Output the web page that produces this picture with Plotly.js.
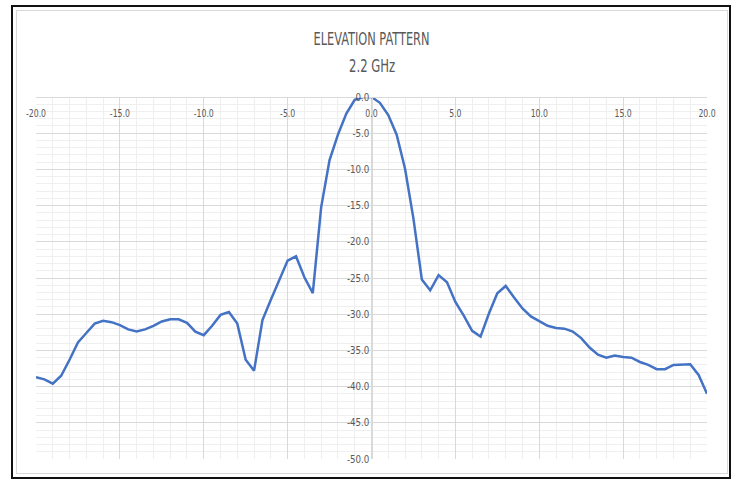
<!DOCTYPE html>
<html><head><meta charset="utf-8">
<script src="https://cdn.plot.ly/plotly-3.0.1.min.js"></script>
<style>
html,body{margin:0;padding:0;background:#fff;}
#wrap{position:relative;width:737px;height:483px;overflow:hidden;}
#chart{position:absolute;left:0;top:0;width:737px;height:483px;}
#outer{position:absolute;left:11px;top:5px;width:716px;height:470px;border:2px solid #111;pointer-events:none;}
#inner{position:absolute;left:16px;top:10px;width:710px;height:462px;border:1px solid #d9d9d9;pointer-events:none;}
</style>
</head><body>
<div id="wrap"><div id="chart"></div><div id="outer"></div><div id="inner"></div></div>
<script>
const angles = [-20,-19.5,-19,-18.5,-18,-17.5,-17,-16.5,-16,-15.5,-15,-14.5,-14,-13.5,-13,-12.5,-12,-11.5,-11,-10.5,-10,-9.5,-9,-8.5,-8,-7.5,-7,-6.5,-6,-5.5,-5,-4.5,-4,-3.5,-3,-2.5,-2,-1.5,-1,-0.5,0,0.5,1,1.5,2,2.5,3,3.5,4,4.5,5,5.5,6,6.5,7,7.5,8,8.5,9,9.5,10,10.5,11,11.5,12,12.5,13,13.5,14,14.5,15,15.5,16,16.5,17,17.5,18,18.5,19,19.5,20];
const gainDb = [-38.7,-39.0,-39.6,-38.5,-36.3,-33.9,-32.6,-31.3,-30.9,-31.1,-31.5,-32.1,-32.4,-32.1,-31.6,-31.0,-30.7,-30.7,-31.2,-32.4,-32.9,-31.6,-30.1,-29.7,-31.3,-36.3,-37.8,-30.8,-28.0,-25.2,-22.6,-22.0,-24.9,-27.1,-15.2,-8.7,-5.2,-2.3,-0.4,0,0,-0.8,-2.5,-5.2,-9.9,-16.8,-25.2,-26.7,-24.6,-25.6,-28.3,-30.2,-32.3,-33.1,-29.9,-27.1,-26.1,-27.7,-29.2,-30.3,-31.0,-31.6,-31.9,-32.0,-32.4,-33.3,-34.6,-35.6,-36.0,-35.7,-35.9,-36.0,-36.6,-37.0,-37.6,-37.6,-37.0,-36.9,-36.9,-38.4,-41.0];
const xTickVals = [-20,-15,-10,-5,0,5,10,15,20];
const xTickText = ["-20.0","-15.0","-10.0","-5.0","0.0","5.0","10.0","15.0","20.0"];
const yTickVals = [0,-5,-10,-15,-20,-25,-30,-35,-40,-45,-50];
const yTickText = ["0.0","-5.0","-10.0","-15.0","-20.0","-25.0","-30.0","-35.0","-40.0","-45.0","-50.0"];
const titleLine1 = "ELEVATION PATTERN";
const titleLine2 = "2.2 GHz";

const FONT = "'Liberation Sans Narrow', 'DejaVu Sans Condensed', 'Roboto', sans-serif";
const tickFont = {family: FONT, size: 10.5, color: '#595959'};

Plotly.newPlot('chart', [{
  x: angles, y: gainDb, type: 'scatter', mode: 'lines',
  line: {color: '#4472C4', width: 2.5}, hoverinfo: 'skip'
}], {
  width: 737, height: 483,
  margin: {l: 36, r: 30, t: 97, b: 24},
  paper_bgcolor: '#fff', plot_bgcolor: '#fff',
  showlegend: false,
  title: {text: titleLine1, x: 0.5, xref: 'paper', xanchor: 'center', y: 1 - 39/483, yanchor: 'middle',
          font: {family: FONT, size: 18, color: '#595959'}},
  annotations: [{text: titleLine2, xref: 'paper', yref: 'paper', x: 0.5, y: 1 + (97-65)/362,
                 xanchor: 'center', yanchor: 'middle', showarrow: false,
                 font: {family: FONT, size: 18, color: '#595959'}}],
  xaxis: {
    range: [-20, 20], anchor: 'free', position: 1, side: 'bottom',
    tickvals: xTickVals, ticktext: xTickText, tickfont: tickFont, ticks: '', ticklabelstandoff: 6,
    showgrid: true, gridcolor: '#d9d9d9', gridwidth: 1,
    minor: {dtick: 1, showgrid: true, gridcolor: '#efefef', gridwidth: 1},
    zeroline: false, showline: true, linecolor: '#d9d9d9', linewidth: 1, fixedrange: true
  },
  yaxis: {
    range: [-50, 0], anchor: 'free', position: 0.5, side: 'left',
    tickvals: yTickVals, ticktext: yTickText, tickfont: tickFont, ticks: '',
    showgrid: true, gridcolor: '#d9d9d9', gridwidth: 1,
    minor: {dtick: 1, showgrid: true, gridcolor: '#efefef', gridwidth: 1},
    zeroline: false, showline: true, linecolor: '#d9d9d9', linewidth: 1, fixedrange: true
  }
}, {displayModeBar: false, staticPlot: true}).then(function () {
  // condense text horizontally to mimic the narrow lettering of the original
  function fitWidth(el, w) {
    el.setAttribute('textLength', w);
    el.setAttribute('lengthAdjust', 'spacingAndGlyphs');
  }
  function squeeze(el, f) {
    var L = el.getComputedTextLength();
    if (L > 0) fitWidth(el, L * f);
  }
  var t = document.querySelector('.gtitle');
  if (t) fitWidth(t, 116);
  var a = document.querySelector('.annotation-text');
  if (a) fitWidth(a, 46);
  document.querySelectorAll('.xtick text').forEach(function (e) { squeeze(e, 0.82); });
  document.querySelectorAll('.ytick text').forEach(function (e) { squeeze(e, 0.92); });
});
</script>
</body></html>
